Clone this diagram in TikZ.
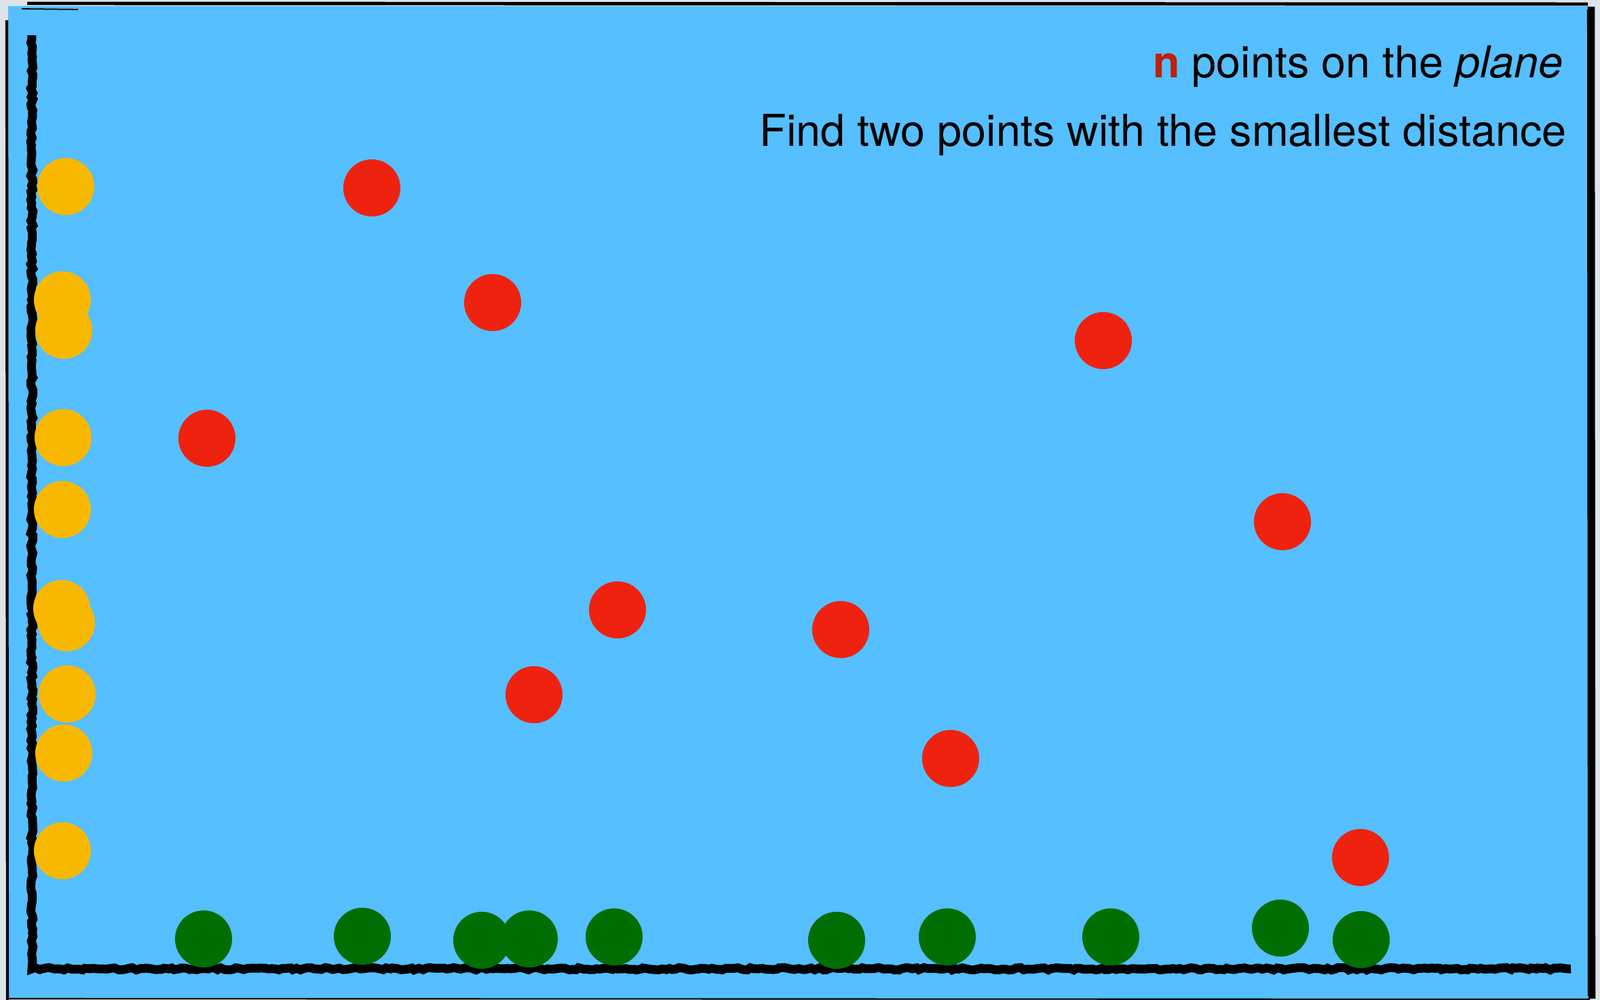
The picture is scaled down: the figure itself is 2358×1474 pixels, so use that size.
\documentclass[tikz,border=0pt]{standalone}
\usepackage{fontspec}
\setmainfont{TeX Gyre Heros}
\usetikzlibrary{decorations.pathmorphing}
\definecolor{bgout}{HTML}{DDE3E6}
\definecolor{skyblue}{HTML}{55BFFF}
\definecolor{ydot}{HTML}{F8B800}
\definecolor{rdot}{HTML}{EF2210}
\definecolor{gdot}{HTML}{006E00}
\definecolor{ntext}{HTML}{C0200A}
\tikzset{
  dot/.style={circle,inner sep=0pt,minimum size=0.84cm},
  ypt/.style={dot,fill=ydot},
  rpt/.style={dot,fill=rdot},
  gpt/.style={dot,fill=gdot},
  axisline/.style={line width=0.13cm,black,decorate,decoration={random steps,segment length=1.5pt,amplitude=0.5pt}},
  frameline/.style={black,line width=0.9pt},
  caption/.style={font=\fontsize{18.4pt}{22pt}\selectfont,inner sep=0pt}
}
\begin{document}
\begin{tikzpicture}[x=0.01cm,y=-0.01cm]
\fill[bgout] (0,0) rectangle (2358,1474);
\useasboundingbox (0,0) rectangle (2358,1474);
\fill[skyblue] (12,9) rectangle (2343,1472);
% sketchy frame
\draw[frameline,line width=1.4pt] (40,5) -- (2340,6);
\draw[frameline,line width=0.5pt] (32,13) -- (115,14);
\draw[frameline,line width=3pt] (2345,10) -- (2346,1472);
\draw[frameline,line width=0.6pt] (2340,14) -- (2341,1468);
\draw[frameline,line width=1.2pt] (10,30) -- (11,1474);
\draw[frameline,line width=0.6pt] (12,1472) -- (2343,1473);
% axes
\coordinate (ytop) at (47,52);
\coordinate (origin) at (47,1428);
\coordinate (xend) at (2315,1428);
\draw[axisline] (ytop) -- (origin) -- (xend);
% yellow points (projection on y axis)
\node[ypt] (y1) at (97,275) {};
\node[ypt] (y2) at (92,442) {};
\node[ypt] (y3) at (94,487) {};
\node[ypt] (y4) at (93,645) {};
\node[ypt] (y5) at (92,751) {};
\node[ypt] (y6) at (91,897) {};
\node[ypt] (y7) at (98,918) {};
\node[ypt] (y8) at (99,1023) {};
\node[ypt] (y9) at (94,1110) {};
\node[ypt] (y10) at (92,1254) {};
% red points
\node[rpt] (r1) at (548,277) {};
\node[rpt] (r2) at (726,446) {};
\node[rpt] (r3) at (305,646) {};
\node[rpt] (r4) at (910,899) {};
\node[rpt] (r5) at (787,1024) {};
\node[rpt] (r6) at (1626,502) {};
\node[rpt] (r7) at (1890,769) {};
\node[rpt] (r8) at (1239,928) {};
\node[rpt] (r9) at (1401,1118) {};
\node[rpt] (r10) at (2005,1264) {};
% green points (projection on x axis)
\node[gpt] (g1) at (300,1384) {};
\node[gpt] (g2) at (534,1380) {};
\node[gpt] (g3) at (710,1386) {};
\node[gpt] (g4) at (780,1384) {};
\node[gpt] (g5) at (905,1381) {};
\node[gpt] (g6) at (1233,1386) {};
\node[gpt] (g7) at (1396,1381) {};
\node[gpt] (g8) at (1637,1381) {};
\node[gpt] (g9) at (1887,1368) {};
\node[gpt] (g10) at (2006,1385) {};
% captions
\node[caption,anchor=base east] (t1) at (2304,115) {{\bfseries\color{ntext}n} points on the \textit{plane}};
\node[caption,anchor=base east] (t2) at (2309,216) {Find two points with the smallest distance};
\end{tikzpicture}
\end{document}
